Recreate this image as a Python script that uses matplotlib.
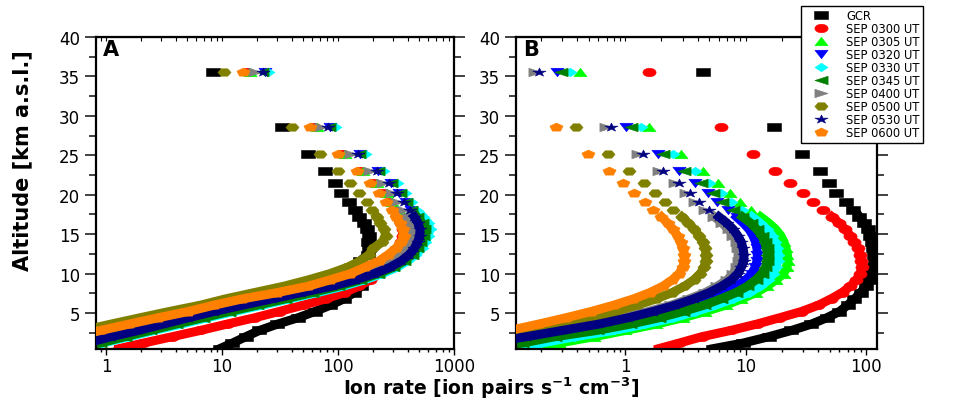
from __future__ import annotations

import matplotlib

matplotlib.use("Agg")

import matplotlib.pyplot as plt
from matplotlib.markers import MarkerStyle
from matplotlib.path import Path
from matplotlib.ticker import FuncFormatter, LogLocator, MultipleLocator, NullFormatter


# altitude levels of the profiles (km a.s.l.)
ALTITUDE_KM = [35.6, 28.6, 25.2, 23.0, 21.5, 20.2, 19.1, 18.1, 17.2, 16.4, 15.6, 14.8, 14.0, 13.2, 12.4,
               11.6, 10.8, 10.0, 9.2, 8.4, 7.6, 6.8, 6.0, 5.2, 4.4, 3.6, 2.8, 2.0, 1.2, 0.5]

LABELS = ["GCR", "SEP 0300 UT", "SEP 0305 UT", "SEP 0320 UT", "SEP 0330 UT",
          "SEP 0345 UT", "SEP 0400 UT", "SEP 0500 UT", "SEP 0530 UT", "SEP 0600 UT"]

# panel A, ion rate [ion pairs s-1 cm-3]
A_GCR = [8.4, 32.7, 55.5, 78, 94, 106, 124, 140, 153, 166, 178, 185, 182, 185, 180,
         155, 165, 130, 150, 158, 138, 112, 86, 63, 45, 30, 21, 16, 12.3, 9.6]
A_0300 = [16.5, 62, 108, 155, 200, 245, 275, 305, 330, 350, 362, 360, 350, 330, 305,
          280, 255, 225, 190, 150, 113, 78, 50, 31, 19, 11, 6.5, 3.7, 2.1, 1.3]
A_0305 = [17.4, 65.5, 115, 165, 215, 262, 295, 330, 360, 388, 405, 400, 385, 360, 330,
          285, 230, 175, 120, 78, 46, 27, 15.5, 9, 5.3, 3.2, 1.95, 1.15, 0.7, 0.45]
A_0320 = [23.5, 86, 156, 222, 285, 338, 385, 430, 470, 505, 525, 520, 500, 470, 425,
          365, 292, 215, 148, 93, 52, 29, 16, 9.2, 5.5, 3.3, 2.0, 1.2, 0.72, 0.46]
A_0330 = [25.1, 94, 171, 246, 321, 378, 425, 470, 540, 600, 620, 600, 565, 525, 465,
          395, 320, 240, 168, 110, 66, 38, 22, 12.6, 7.4, 4.4, 2.6, 1.57, 0.93, 0.59]
A_0345 = [22, 84, 152, 220, 285, 340, 385, 425, 480, 530, 550, 540, 510, 478, 432,
          372, 300, 222, 155, 100, 60, 35, 20, 11.5, 6.8, 4.0, 2.4, 1.45, 0.88, 0.56]
A_0400 = [19.2, 72, 128.6, 189, 246, 290, 325, 362, 398, 428, 445, 440, 420, 390, 350,
          300, 240, 180, 125, 80, 42, 23, 13, 7.4, 4.4, 2.7, 1.65, 0.96, 0.6, 0.38]
A_0500 = [10.5, 39.8, 70, 100, 128, 152, 178, 195, 215, 232, 250, 258, 240, 200, 185,
          155, 120, 85, 55, 34, 19, 10.7, 6.5, 3.5, 1.95, 1.1, 0.63, 0.35, 0.21, 0.13]
A_0530 = [22.7, 82.5, 150, 215, 275, 325, 370, 415, 455, 490, 510, 505, 485, 455, 410,
          350, 280, 205, 140, 88, 48, 27, 15, 8.5, 5.1, 3.1, 1.9, 1.1, 0.68, 0.44]
A_0600 = [15.3, 57.4, 100, 145, 189, 226, 258, 290, 318, 342, 362, 368, 350, 315, 270,
          225, 170, 128, 85, 55, 30, 15, 8.5, 5.1, 2.8, 1.58, 0.9, 0.5, 0.3, 0.2]

# panel B, ion rate [ion pairs s-1 cm-3]
B_GCR = [4.4, 17.1, 29.3, 41, 49.6, 56, 68, 78, 88, 96, 103, 108, 112, 115, 117,
         118, 117, 112, 106, 99, 90, 80, 70, 60, 47, 35, 24, 15.5, 9.5, 5.4]
B_0300 = [1.59, 6.26, 11.6, 17.6, 23.4, 29.8, 36, 44, 52, 60, 67, 74, 80, 85, 89,
          91, 92, 89, 83, 74, 63, 51, 40, 29, 19, 12.3, 7.5, 4.3, 2.8, 1.9]
B_0305 = [0.42, 1.59, 2.92, 4.41, 5.88, 7.35, 8.9, 11.0, 13.3, 15.6, 17.8, 19.6, 20.8, 21.6, 22.2,
          22.4, 22.0, 20.6, 17.8, 15.0, 12.2, 9.2, 6.8, 4.6, 3.0, 1.8, 1.0, 0.55, 0.28, 0.16]
B_0320 = [0.27, 1.02, 1.87, 2.82, 3.83, 4.86, 5.8, 7.1, 8.4, 9.6, 10.7, 11.5, 12.1, 12.4, 12.5,
          12.4, 12.0, 11.2, 10.0, 8.4, 6.7, 5.0, 3.6, 2.4, 1.5, 0.85, 0.45, 0.22, 0.1, 0.06]
B_0330 = [0.345, 1.36, 2.49, 3.76, 5.0, 6.26, 7.6, 9.4, 11.3, 13.2, 15.0, 16.5, 17.5, 18.2, 18.6,
          18.4, 17.8, 16.9, 15.4, 13.2, 10.6, 7.8, 5.6, 3.8, 2.5, 1.45, 0.8, 0.38, 0.2, 0.13]
B_0345 = [0.294, 1.12, 2.05, 3.1, 4.22, 5.35, 6.4, 7.9, 9.4, 11.0, 12.4, 13.6, 14.4, 14.9, 15.1,
          15.0, 14.6, 13.6, 12.1, 10.3, 8.3, 6.2, 4.5, 3.0, 1.9, 1.1, 0.58, 0.26, 0.14, 0.08]
B_0400 = [0.177, 0.695, 1.27, 1.9, 2.57, 3.17, 3.8, 4.6, 5.5, 6.4, 7.2, 7.9, 8.4, 8.7, 8.9,
          8.8, 8.4, 7.9, 7.0, 5.8, 4.6, 3.4, 2.4, 1.55, 0.95, 0.54, 0.27, 0.13, 0.06, 0.035]
B_0500 = [0.1, 0.39, 0.72, 1.07, 1.43, 1.77, 2.12, 2.5, 2.95, 3.35, 3.75, 4.1, 4.4, 4.6, 4.7,
          4.65, 4.5, 4.2, 3.7, 3.1, 2.45, 1.8, 1.25, 0.82, 0.5, 0.28, 0.15, 0.08, 0.04, 0.02]
B_0530 = [0.194, 0.765, 1.40, 2.05, 2.77, 3.42, 4.1, 5.0, 6.0, 7.0, 7.9, 8.6, 9.2, 9.5, 9.7,
          9.6, 9.2, 8.6, 7.6, 6.3, 5.0, 3.7, 2.6, 1.7, 1.05, 0.6, 0.3, 0.15, 0.07, 0.04]
B_0600 = [0.08, 0.264, 0.49, 0.73, 0.96, 1.19, 1.45, 1.7, 2.0, 2.25, 2.5, 2.72, 2.9, 3.02, 3.1,
          3.1, 3.0, 2.8, 2.45, 2.05, 1.6, 1.17, 0.8, 0.52, 0.32, 0.19, 0.11, 0.06, 0.03, 0.015]

COLORS = ["#000000", "#ff0000", "#00ff00", "#0000ff", "#00ffff",
          "#008000", "#808080", "#808000", "#000080", "#ff8000"]
MARKERS = ["s", "o", "^", "v", "D", "<", ">", "H", "*", "p"]

BAND_START = 8  # below this level the markers merge into a band
FONT = ["DejaVu Sans"]


def _wide_marker(symbol: str, stretch: float = 1.55) -> Path:
    style = MarkerStyle(symbol)
    path = style.get_path().transformed(style.get_transform())
    return Path(path.vertices * [stretch, 1.0], path.codes)


def _draw_panel(ax, series, xlim, letter) -> None:
    for i, (values, label, color, marker) in enumerate(zip(series, LABELS, COLORS, MARKERS)):
        z = 2 + 0.1 * i
        ax.plot(values[BAND_START:], ALTITUDE_KM[BAND_START:], color=color, lw=6.5,
                solid_joinstyle="round", zorder=z)
        ax.plot(values, ALTITUDE_KM, ls="none", marker=_wide_marker(marker), ms=9.5,
                color=color, mec=color, mew=0.4, label=label, zorder=z)

    ax.set_xscale("log")
    ax.set_xlim(*xlim)
    ax.set_ylim(0.45, 40)
    ax.yaxis.set_major_locator(MultipleLocator(5))
    ax.yaxis.set_minor_locator(MultipleLocator(2.5))
    ax.xaxis.set_major_locator(LogLocator(base=10))
    ax.xaxis.set_minor_locator(LogLocator(base=10, subs=range(2, 10)))
    ax.xaxis.set_major_formatter(FuncFormatter(lambda v, _: f"{v:g}"))
    ax.xaxis.set_minor_formatter(NullFormatter())
    ax.tick_params(axis="y", which="both", direction="out", left=True, right=True,
                   labelsize=12, width=1.3, color="#333333")
    ax.tick_params(axis="y", which="major", length=8)
    ax.tick_params(axis="y", which="minor", length=5)
    ax.tick_params(axis="x", which="both", direction="out", labelsize=12, width=1.0, pad=2)
    ax.tick_params(axis="x", which="major", length=4)
    ax.tick_params(axis="x", which="minor", length=2.5)
    for lab in ax.get_xticklabels() + ax.get_yticklabels():
        lab.set_family(FONT)

    top = ax.secondary_xaxis("top")
    top.xaxis.set_minor_locator(LogLocator(base=10, subs=range(2, 10)))
    top.tick_params(which="both", direction="in", labeltop=False, length=3, width=0.8)

    for spine in ax.spines.values():
        spine.set_linewidth(1.6)

    ax.text(0.02, 0.995, letter, transform=ax.transAxes, va="top", ha="left",
            fontsize=15, fontweight="bold", family=FONT, zorder=10)


def main() -> None:
    fig = plt.figure(figsize=(9.62, 4.02), dpi=100)
    ax_a = fig.add_axes([96 / 962, 52 / 402, 358 / 962, 312 / 402])
    ax_b = fig.add_axes([516 / 962, 52 / 402, 361 / 962, 312 / 402])

    _draw_panel(ax_a, [A_GCR, A_0300, A_0305, A_0320, A_0330, A_0345, A_0400, A_0500, A_0530, A_0600],
                (0.82, 1000), "A")
    _draw_panel(ax_b, [B_GCR, B_0300, B_0305, B_0320, B_0330, B_0345, B_0400, B_0500, B_0530, B_0600],
                (0.124, 123), "B")

    handles, labels = ax_b.get_legend_handles_labels()
    legend = fig.legend(handles, labels, loc="upper left", bbox_to_anchor=(801 / 962, 1 - 7 / 402),
                        bbox_transform=fig.transFigure, borderaxespad=0, frameon=True, fancybox=False,
                        edgecolor="black", framealpha=1, borderpad=0.3, labelspacing=0.0,
                        handlelength=2.9, handletextpad=0.7, numpoints=1, prop={"family": FONT, "size": 8.3})
    legend.get_frame().set_linewidth(1.0)
    legend.set_zorder(20)

    fig.text(0.023, 0.60, "Altitude [km a.s.l.]", rotation=90, ha="center", va="center",
             fontsize=15, fontweight="bold", family=FONT)
    fig.text(0.51, 0.017, r"Ion rate [ion pairs s$^{\mathbf{-1}}$ cm$^{\mathbf{-3}}$]", ha="center",
             va="baseline", fontsize=13.5, fontweight="bold", family=FONT)

    fig.savefig("out.png", dpi=100)
    plt.close(fig)


if __name__ == "__main__":
    main()
